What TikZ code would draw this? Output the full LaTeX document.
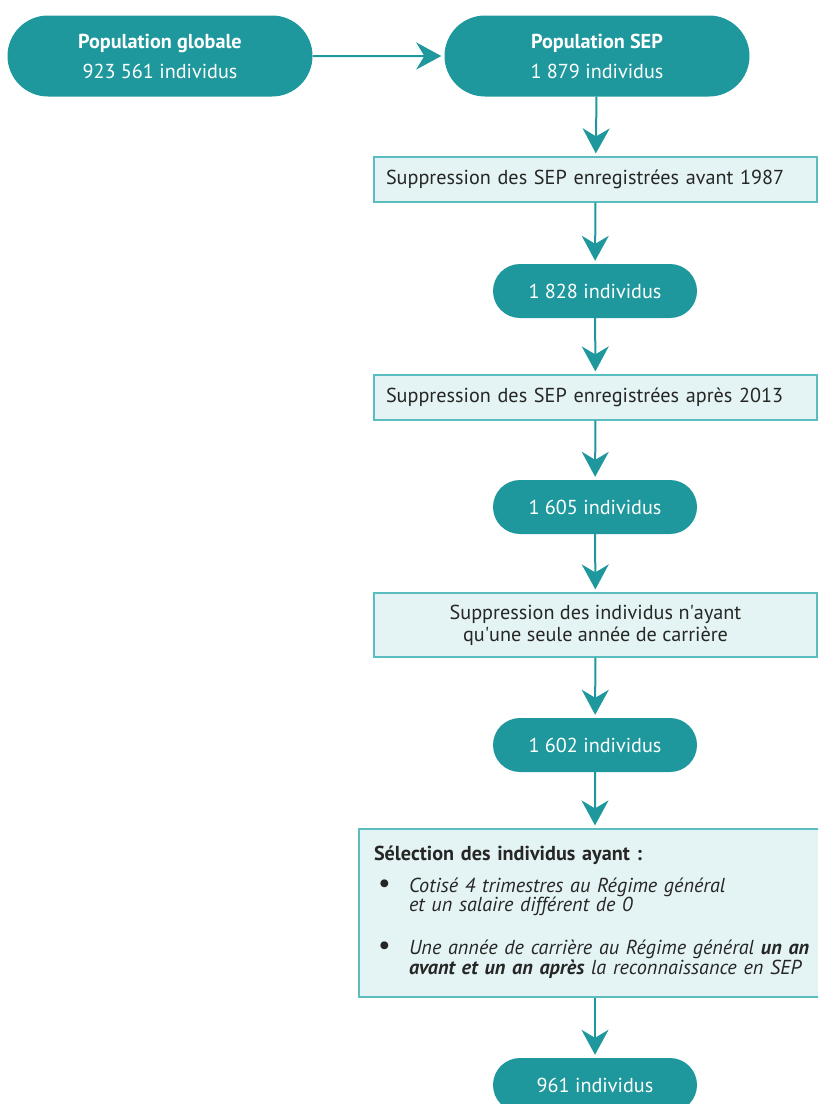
\documentclass[tikz,border=0pt]{standalone}
\usepackage{fontspec}
\setmainfont{PT Sans}
\usetikzlibrary{positioning, arrows.meta, shapes.misc}
\definecolor{septeal}{HTML}{1E989C}
\definecolor{seplight}{HTML}{E4F3F3}
\definecolor{sepborder}{HTML}{5BBDBF}
\tikzset{
	popnode/.style={
			rounded rectangle,
			fill=septeal,
			text=white,
			minimum width=305pt,
			minimum height=81pt,
			align=center,
			inner sep=0pt,
			font=\fontsize{20.2}{30}\selectfont
		},
	countnode/.style={
			popnode,
			minimum width=204pt,
			minimum height=54pt
		},
	filterbox/.style={
			rectangle,
			draw=sepborder,
			fill=seplight,
			line width=1.2pt,
			minimum width=443pt,
			minimum height=45pt,
			inner xsep=12pt,
			text=black!85,
			font=\fontsize{20.2}{22}\selectfont
		},
	flow/.style={
			draw=septeal,
			line width=2pt,
			shorten >=3pt,
			-{Stealth[length=25pt, width=27pt, inset=8pt]}
		}
}
\newcommand{\sepbullet}{\hspace*{4pt}{\fontsize{28}{18}\selectfont\textbullet}}

\begin{document}
\begin{tikzpicture}[x=1pt, y=1pt]
\useasboundingbox (0,0) rectangle (818,-1104);

\node[popnode] (n1) at (160,-56) {\textbf{Population globale}\\923 561 individus};
\node[popnode] (n2) at (597,-56) {\textbf{Population SEP}\\1 879 individus};

\node[filterbox, text width=419pt, align=left] (b1) at (595.5,-179.5)
  {Suppression des SEP enregistrées avant 1987};
\node[countnode] (n3) at (595,-291) {1 828 individus};

\node[filterbox, text width=419pt, align=left] (b2) at (595.5,-397.5)
  {Suppression des SEP enregistrées après 2013};
\node[countnode] (n4) at (595,-507) {1 605 individus};

\node[filterbox, minimum height=64pt, align=center] (b3) at (595.5,-625)
  {Suppression des individus n\textquotesingle ayant\\qu\textquotesingle une seule année de carrière};
\node[countnode] (n5) at (595,-745) {1 602 individus};

\node[filterbox, minimum width=472pt, minimum height=168pt, inner xsep=15pt,
  text width=442pt, align=left, font=\fontsize{20.2}{18}\selectfont] (b4) at (595,-913)
  {\textbf{Sélection des individus ayant :}\\[12pt]
   \begin{tabular}{@{}p{35pt}@{}l@{}}
   \sepbullet & \textit{Cotisé 4 trimestres au Régime général}\\
   & \textit{et un salaire différent de 0}\\[23pt]
   \sepbullet & \textit{Une année de carrière au Régime général \textbf{un an}}\\
   & \textit{\textbf{avant et un an après} la reconnaissance en SEP}
   \end{tabular}};
\node[countnode] (n6) at (595,-1085) {961 individus};

\draw[flow] (n1) -- (n2);
\draw[flow] (n2) -- (b1);
\draw[flow] (b1) -- (n3);
\draw[flow] (n3) -- (b2);
\draw[flow] (b2) -- (n4);
\draw[flow] (n4) -- (b3);
\draw[flow] (b3) -- (n5);
\draw[flow] (n5) -- (b4);
\draw[flow] (b4) -- (n6);

\end{tikzpicture}
\end{document}
